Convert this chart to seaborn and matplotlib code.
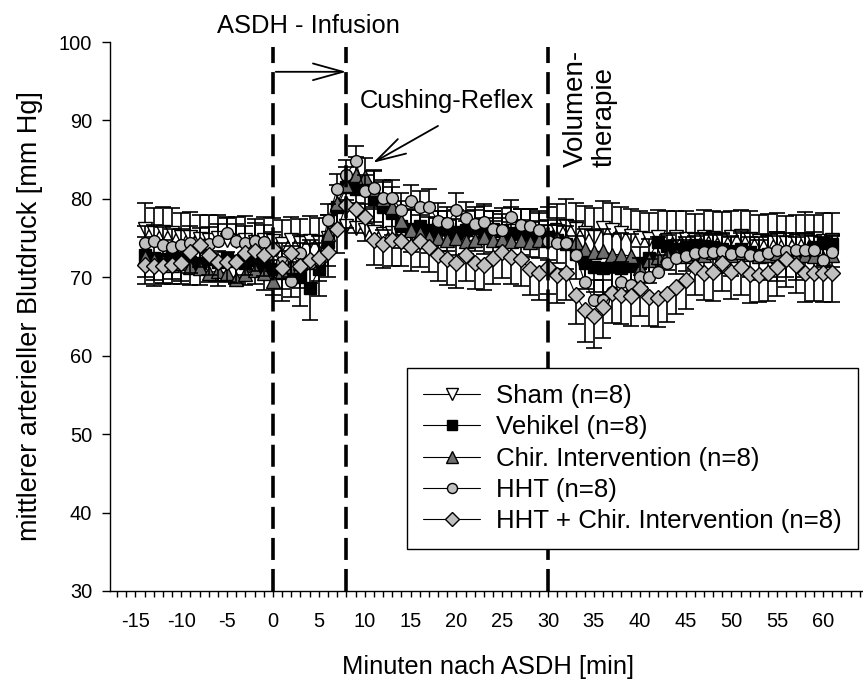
import numpy as np
import pandas as pd
import matplotlib
matplotlib.use("Agg")
import matplotlib.pyplot as plt
import seaborn as sns
from matplotlib.lines import Line2D
from matplotlib.ticker import FixedLocator, FuncFormatter

# Time axis: one sample per minute relative to ASDH induction
minutes = list(range(-14, 62))

# Mean arterial pressure per group [mm Hg]
sham = [76.2, 75.6, 75.8, 75.6, 75.2, 75.2, 74.9, 74.8, 75.0, 74.7,
        74.6, 74.8, 74.5, 74.7, 74.6, 74.2, 74.8, 74.4, 74.6, 74.5,
        75.0, 76.0, 76.5, 76.3, 76.0, 75.8, 75.5, 75.7, 75.4, 75.6,
        75.3, 75.5, 75.2, 75.4, 75.6, 75.3, 75.5, 75.8, 75.4, 75.6,
        75.9, 75.5, 75.7, 75.4, 75.8, 76.0, 76.6, 76.2, 75.6, 75.2,
        76.3, 76.0, 75.6, 75.3, 75.0, 74.9, 75.2, 74.8, 75.1, 74.9,
        74.8, 75.2, 75.0, 74.7, 75.1, 75.3, 74.9, 74.6, 74.5, 74.7,
        74.4, 74.6, 74.8, 74.5, 74.6, 74.7]
vehikel = [72.8, 72.5, 72.3, 72.6, 72.4, 72.0, 71.8, 72.3, 72.0, 72.4,
           72.1, 71.8, 72.2, 71.5, 71.0, 70.5, 70.8, 70.0, 68.6, 71.0,
           74.5, 79.0, 81.5, 81.3, 81.5, 80.0, 79.0, 78.2, 76.6, 76.2,
           76.5, 76.0, 76.3, 76.1, 75.7, 76.0, 76.3, 75.8, 76.2, 75.9,
           75.6, 75.8, 75.5, 75.3, 75.2, 74.8, 74.2, 73.0, 71.8, 71.3,
           71.2, 71.4, 71.2, 71.5, 71.8, 72.5, 74.5, 74.0, 73.6, 73.8,
           74.1, 74.0, 73.8, 73.6, 73.4, 73.6, 73.2, 72.8, 73.0, 72.6,
           73.0, 72.8, 73.2, 73.8, 74.4, 74.3]
chir = [72.6, 72.2, 72.0, 71.6, 71.8, 71.3, 71.2, 70.6, 70.8, 70.5,
        69.8, 70.4, 70.9, 70.6, 69.5, 70.8, 71.5, 71.8, 72.0, 72.8,
        75.5, 79.5, 81.8, 83.0, 82.8, 81.2, 80.0, 78.9, 77.2, 76.0,
        75.6, 75.2, 75.0, 74.8, 75.0, 74.6, 74.8, 75.1, 74.7, 74.9,
        74.6, 74.8, 74.5, 74.7, 74.9, 75.0, 74.8, 74.5, 73.6, 73.2,
        73.4, 72.9, 72.9, 72.7, 71.2, 72.2, 72.6, 72.8, 73.0, 72.7,
        73.1, 72.9, 73.2, 73.0, 72.8, 73.2, 73.0, 72.7, 72.9, 73.1,
        72.8, 72.6, 72.9, 72.7, 72.5, 72.8]
hht = [74.4, 74.6, 74.1, 73.9, 74.1, 74.4, 74.0, 74.3, 74.6, 75.7,
       74.6, 74.4, 74.6, 74.5, 73.5, 72.0, 69.5, 73.1, 71.8, 72.2,
       77.3, 81.3, 83.1, 84.8, 81.0, 81.4, 80.1, 80.1, 78.6, 79.7,
       79.0, 79.0, 77.2, 76.9, 78.6, 77.6, 76.8, 77.1, 76.2, 76.0,
       77.7, 76.7, 76.6, 76.0, 74.6, 74.4, 74.4, 72.9, 69.4, 67.1,
       67.1, 68.1, 69.4, 69.0, 70.0, 70.0, 70.7, 71.8, 72.5, 72.7,
       73.1, 73.2, 73.2, 73.4, 73.0, 73.3, 72.9, 72.7, 73.1, 73.5,
       73.4, 73.5, 73.5, 73.5, 72.2, 73.2]
hht_chir = [71.6, 71.5, 71.5, 71.6, 71.8, 73.2, 74.1, 72.9, 72.0, 72.0,
            72.0, 73.1, 73.4, 72.9, 73.6, 71.2, 73.1, 71.4, 72.2, 72.5,
            73.2, 76.1, 79.2, 78.7, 77.7, 74.8, 74.3, 74.8, 74.6, 73.9,
            74.6, 73.9, 72.9, 72.3, 71.8, 72.9, 71.8, 71.6, 72.5, 73.2,
            72.6, 72.3, 71.1, 70.6, 71.3, 70.3, 70.6, 67.8, 65.8, 65.1,
            66.2, 68.0, 67.8, 67.6, 68.6, 67.5, 67.4, 67.9, 68.8, 69.7,
            71.3, 70.6, 70.7, 71.8, 70.7, 71.3, 70.4, 70.3, 70.6, 71.3,
            72.3, 71.6, 70.6, 70.6, 70.6, 70.6]

# Standard deviations (drawn one-sided)
sham_sd = [3.3, 3.2, 3.1, 3.2, 3.0, 3.1, 3.0, 3.2, 3.0, 2.9, 3.1, 3.0, 2.9, 3.0,
           3.0, 3.1, 2.9, 3.0, 3.2, 3.1, 3.0, 3.3, 3.4, 3.2, 3.3,
           3.1, 3.2, 3.0, 3.2, 3.1, 3.3, 3.0, 3.2, 3.1, 3.0, 3.2, 3.1, 3.3, 3.0, 3.2, 3.1, 3.2, 3.0, 3.1, 3.2,
           3.3, 3.4, 3.3, 3.5, 3.6, 3.4, 3.5, 3.3, 3.4, 3.5, 3.3, 3.4, 3.6, 3.4, 3.5, 3.3,
           3.4, 3.5, 3.6, 3.4, 3.3, 3.5, 3.4, 3.6, 3.5, 3.4, 3.3, 3.5, 3.4, 3.6, 3.5]
vehikel_sd = [2.8, 2.9, 3.0, 2.8, 2.9, 3.0, 2.8, 2.9, 3.1, 2.9, 3.0, 2.8, 3.0, 3.1,
              3.2, 3.5, 3.3, 3.6, 4.0, 3.4, 3.0, 2.8, 2.6, 2.7, 2.8,
              2.9, 3.0, 2.8, 2.9, 3.0, 2.8, 2.9, 3.0, 2.8, 2.9, 3.0, 2.9, 2.8, 3.0, 2.9, 2.8, 3.0, 2.9, 2.8, 3.0,
              3.0, 3.1, 3.2, 3.3, 3.2, 3.4, 3.3, 3.2, 3.3, 3.1, 3.2, 3.0, 3.1, 3.2, 3.0, 3.1,
              3.2, 3.0, 3.1, 3.2, 3.0, 3.1, 3.2, 3.0, 3.1, 3.0, 3.2, 3.1, 3.0, 3.1, 3.0]
chir_sd = [2.6, 2.5, 2.7, 2.6, 2.5, 2.6, 2.7, 2.5, 2.6, 2.7, 2.5, 2.6, 2.5, 2.6,
           2.7, 2.6, 2.5, 2.6, 2.7, 2.5, 2.4, 2.3, 2.2, 2.3, 2.4,
           2.5, 2.4, 2.6, 2.5, 2.6, 2.4, 2.5, 2.6, 2.5, 2.4, 2.6, 2.5, 2.4, 2.5, 2.6, 2.4, 2.5, 2.6, 2.5, 2.4,
           2.6, 2.5, 2.7, 2.6, 2.8, 2.7, 2.6, 2.7, 2.8, 2.6, 2.7, 2.5, 2.6, 2.7, 2.5, 2.6,
           2.7, 2.5, 2.6, 2.5, 2.7, 2.6, 2.5, 2.6, 2.7, 2.5, 2.6, 2.5, 2.6, 2.7, 2.6]
hht_sd = [2.2, 2.1, 2.3, 2.2, 2.1, 2.2, 2.3, 2.1, 2.2, 2.0, 2.2, 2.1, 2.3, 2.2,
          2.3, 2.4, 2.5, 2.3, 2.4, 2.2, 2.0, 1.9, 1.9, 2.0, 2.1,
          2.2, 2.1, 2.3, 2.2, 2.1, 2.0, 2.2, 2.3, 2.1, 2.2, 2.0, 2.1, 2.2, 2.3, 2.1, 2.2, 2.0, 2.1, 2.2, 2.1,
          2.3, 2.2, 2.4, 2.5, 2.6, 2.5, 2.4, 2.5, 2.3, 2.4, 2.3, 2.2, 2.3, 2.2, 2.1, 2.2,
          2.3, 2.2, 2.1, 2.2, 2.3, 2.2, 2.1, 2.2, 2.3, 2.2, 2.1, 2.2, 2.3, 2.2, 2.1]
hht_chir_sd = [2.5, 2.6, 2.4, 2.5, 2.6, 2.7, 2.8, 2.6, 2.5, 2.6, 2.7, 2.8, 2.6, 2.7,
               2.8, 2.7, 3.0, 2.8, 2.9, 3.0, 3.1, 3.0, 2.9, 3.0, 3.1,
               3.2, 3.1, 3.3, 3.2, 3.1, 3.3, 3.2, 3.4, 3.3, 3.2, 3.4, 3.3, 3.2, 3.4, 3.3, 3.5, 3.4, 3.3, 3.5, 3.4,
               3.6, 3.5, 3.8, 4.0, 4.1, 3.9, 3.8, 3.7, 3.8, 3.6, 3.7, 3.8, 3.6, 3.5, 3.7, 3.6,
               3.5, 3.7, 3.6, 3.5, 3.6, 3.7, 3.5, 3.6, 3.7, 3.5, 3.6, 3.7, 3.6, 3.8, 3.7]

labels = ["Sham (n=8)", "Vehikel (n=8)", "Chir. Intervention (n=8)",
          "HHT (n=8)", "HHT + Chir. Intervention (n=8)"]
event_minutes = [0, 8, 30]
y_ticks = [30, 40, 50, 60, 70, 80, 90, 100]

sns.set_style("ticks")
plt.rcParams["font.family"] = ["Liberation Sans", "DejaVu Sans"]
plt.rcParams["axes.unicode_minus"] = False
plt.rcParams["text.color"] = "black"
plt.rcParams["axes.labelcolor"] = "black"
plt.rcParams["xtick.color"] = "black"
plt.rcParams["ytick.color"] = "black"

W, H = 863, 682
fig = plt.figure(figsize=(W / 100, H / 100), dpi=100)
ax = fig.add_axes([110 / W, 91 / H, 752 / W, 549 / H])

styles = [
    # values, sd, direction, marker, face, size
    (sham, sham_sd, +1, "v", "white", 9.5),
    (vehikel, vehikel_sd, -1, "s", "black", 8.3),
    (chir, chir_sd, +1, "^", "#6e6e6e", 9.5),
    (hht, hht_sd, +1, "o", "#c0c0c0", 8.5),
    (hht_chir, hht_chir_sd, -1, "D", "#c0c0c0", 8.0),
]

frames = []
for lab, (vals, sd, sign, marker, face, ms) in zip(labels, styles):
    frames.append(pd.DataFrame({"Minute": minutes, "MAP": vals, "SD": sd, "Gruppe": lab}))
df = pd.concat(frames, ignore_index=True)

handles = []
for lab, (vals, sd, sign, marker, face, ms) in zip(labels, styles):
    d = df[df["Gruppe"] == lab]
    end = d["MAP"].to_numpy() + sign * d["SD"].to_numpy()
    ax.vlines(d["Minute"], d["MAP"], end, colors="black", linewidth=1.2)
    ax.plot(d["Minute"], end, linestyle="none", marker="_", markersize=11,
            markeredgewidth=1.2, color="black")
    sns.lineplot(data=d, x="Minute", y="MAP", ax=ax, color="black", linewidth=0.8,
                 marker=marker, markersize=ms, markerfacecolor=face,
                 markeredgecolor="black", markeredgewidth=1.0,
                 legend=False, errorbar=None, sort=False)
    handles.append(Line2D([0], [0], color="black", linewidth=0.8, marker=marker,
                          markersize=ms * 0.85, markerfacecolor=face,
                          markeredgecolor="black", markeredgewidth=1.0, label=lab))

# Event markers
for m in event_minutes:
    ax.plot([m, m], [30, 99.4], color="black", linewidth=2.6,
            linestyle=(0, (6.1, 2.5)), zorder=6, clip_on=False)

ax.set_xlim(-17.78, 64.25)
ax.set_ylim(30, 100)

ax.xaxis.set_major_locator(FixedLocator(list(range(-17, 65))))
ax.xaxis.set_major_formatter(FuncFormatter(
    lambda v, pos: f"{int(round(v))}" if (int(round(v)) % 5 == 0 and -15 <= v <= 60) else ""))
ax.yaxis.set_major_locator(FixedLocator(y_ticks))
ax.yaxis.set_major_formatter(FuncFormatter(lambda v, pos: f"{int(v)}"))

ax.tick_params(axis="x", direction="out", length=4.5, width=1.0, pad=10.5,
               labelsize=14.4, colors="black")
ax.tick_params(axis="y", direction="out", length=5.8, width=1.0, pad=7,
               labelsize=14.4, colors="black")
for s in ["top", "right"]:
    ax.spines[s].set_visible(False)
for s in ["left", "bottom"]:
    ax.spines[s].set_linewidth(1.0)
    ax.spines[s].set_color("black")

ax.set_xlabel("Minuten nach ASDH [min]", fontsize=18.4)
ax.xaxis.label.set_verticalalignment("center")
ax.xaxis.set_label_coords((488 - 110) / 752, (591 - 667) / 549)
ax.set_ylabel("mittlerer arterieller Blutdruck [mm Hg]", fontsize=19.5)
ax.yaxis.label.set_verticalalignment("center")
ax.yaxis.set_label_coords((30 - 110) / 752, 0.5)

# Annotations
arrow_style = "->,head_length=1.08,head_width=0.3"
ax.annotate("", xy=(8, 96.2), xytext=(0.3, 96.2),
            arrowprops=dict(arrowstyle=arrow_style, color="black", lw=1.3,
                            shrinkA=0, shrinkB=0, mutation_scale=20),
            annotation_clip=False)
ax.text(3.87, 101.15, "ASDH - Infusion", ha="center", va="baseline",
        fontsize=18.4, clip_on=False)
ax.text(9.49, 91.55, "Cushing-Reflex", ha="left", va="baseline", fontsize=18.4)
ax.annotate("", xy=(10.9, 84.6), xytext=(18.0, 89.3),
            arrowprops=dict(arrowstyle=arrow_style, color="black", lw=1.3,
                            shrinkA=0, shrinkB=0, mutation_scale=20))
ax.text(31.64, 84.06, "Volumen-\ntherapie", rotation=90, ha="left", va="bottom",
        multialignment="left", fontsize=20, linespacing=1.15)

leg = ax.legend(handles=handles, loc="upper right",
                bbox_to_anchor=(858 / W, 1 - 368 / H), bbox_transform=fig.transFigure,
                fontsize=18.6, frameon=True, fancybox=False, framealpha=1,
                edgecolor="black", borderpad=0.62, labelspacing=0.285,
                handlelength=2.2, handletextpad=0.63, borderaxespad=0)
leg.get_frame().set_linewidth(1.0)
leg.set_zorder(10)

fig.savefig("out.png", dpi=100)
